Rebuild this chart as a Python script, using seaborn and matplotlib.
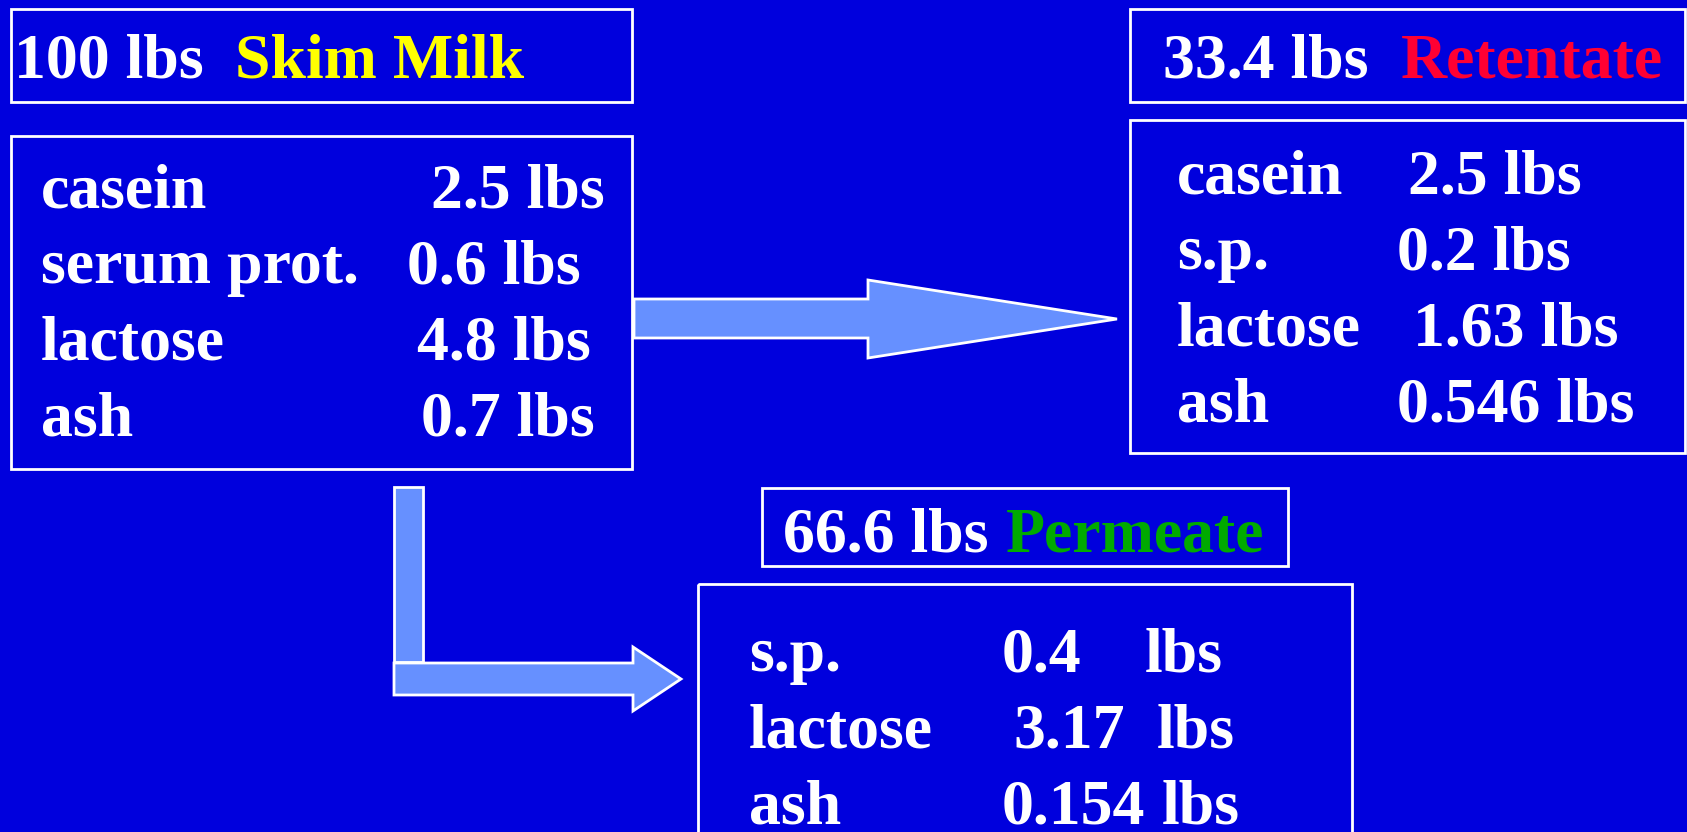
import matplotlib
matplotlib.use("Agg")
import matplotlib.pyplot as plt
from matplotlib.patches import Rectangle, Polygon
import seaborn as sns

# stream data
stream_weights = ["100 lbs", "33.4 lbs", "66.6 lbs"]
stream_names = ["Skim Milk", "Retentate", "Permeate"]

skim_components = ["casein", "serum prot.", "lactose", "ash"]
skim_values = ["2.5 lbs", "0.6 lbs", "4.8 lbs", "0.7 lbs"]

retentate_components = ["casein", "s.p.", "lactose", "ash"]
retentate_values = ["2.5 lbs", "0.2 lbs", "1.63 lbs", "0.546 lbs"]

permeate_components = ["s.p.", "lactose", "ash"]
permeate_values = ["0.4", "3.17", "0.154"]
permeate_unit = "lbs"

BG = "#0000DD"
ARROW = "#6690FF"
NAME_COLORS = ["#FFFF00", "#FF0033", "#00AA00"]

sns.set_theme(style="white")
plt.rcParams["font.family"] = ["Liberation Serif", "DejaVu Serif"]
plt.rcParams["font.weight"] = "bold"

W, H = 1687, 832
fig = plt.figure(figsize=(W / 100, H / 100), dpi=100)
fig.patch.set_facecolor(BG)
ax = fig.add_axes([0, 0, 1, 1])
ax.set_xlim(0, W)
ax.set_ylim(H, 0)
ax.set_facecolor(BG)
ax.axis("off")

TITLE_FS = 46
ROW_FS = 46


def box(x0, y0, x1, y1):
    ax.add_patch(Rectangle((x0, y0), x1 - x0, y1 - y0, fill=False,
                           edgecolor="white", linewidth=2, zorder=2))


def title(weight, name, color, x_w, x_n, base):
    ax.text(x_w, base, weight, color="white", fontsize=TITLE_FS,
            fontweight="bold", va="baseline", ha="left")
    ax.text(x_n, base, name, color=color, fontsize=TITLE_FS,
            fontweight="bold", va="baseline", ha="left")


def rows(labels, x_lab, values, x_vals, bases):
    for lab, val, xv, b in zip(labels, values, x_vals, bases):
        ax.text(x_lab, b, lab, color="white", fontsize=ROW_FS,
                fontweight="bold", va="baseline", ha="left")
        ax.text(xv, b, val, color="white", fontsize=ROW_FS,
                fontweight="bold", va="baseline", ha="left")


# ── Skim milk ───────────────────────────────────────────────────
box(11, 9, 632, 102)
box(11, 136, 632, 469)
title(stream_weights[0], stream_names[0], NAME_COLORS[0], 14, 235, 77)
rows(skim_components, 41, skim_values, [431, 407, 417, 421],
     [208, 283, 359, 436])

# ── Retentate ───────────────────────────────────────────────────
box(1130, 9, 1685, 102)
box(1130, 120, 1685, 453)
title(stream_weights[1], stream_names[1], NAME_COLORS[1], 1163, 1401, 77)
rows(retentate_components, 1177, retentate_values, [1408, 1397, 1413, 1397],
     [194, 269, 346, 422])

# ── Permeate ────────────────────────────────────────────────────
box(762, 488, 1288, 566)
box(698, 584, 1352, 900)
title(stream_weights[2], stream_names[2], NAME_COLORS[2], 783, 1006, 552)
perm_bases = [671, 747, 823]
rows(permeate_components, 749, permeate_values, [1002, 1013, 1002], perm_bases)
for xu, b in zip([1145, 1157, 1162], perm_bases):
    ax.text(xu, b, permeate_unit, color="white", fontsize=ROW_FS,
            fontweight="bold", va="baseline", ha="left")

# ── Arrows ──────────────────────────────────────────────────────
right_arrow = [(634, 299), (868, 299), (868, 280), (1117, 319),
               (868, 358), (868, 338), (634, 338)]
ax.add_patch(Polygon(right_arrow, closed=True, facecolor=ARROW,
                     edgecolor="white", linewidth=2, zorder=3))

ax.add_patch(Rectangle((394, 487), 29, 175, facecolor=ARROW,
                       edgecolor="white", linewidth=2, zorder=3))
down_arrow = [(394, 663), (633, 663), (633, 647), (681, 679),
              (633, 711), (633, 695), (394, 695)]
ax.add_patch(Polygon(down_arrow, closed=True, facecolor=ARROW,
                     edgecolor="white", linewidth=2, zorder=3))

fig.savefig("out.png", dpi=100, facecolor=BG)
